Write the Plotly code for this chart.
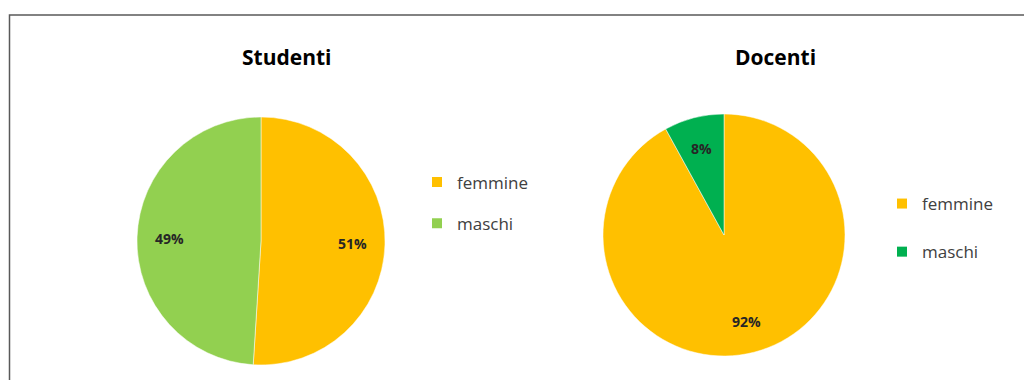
import math
import plotly.graph_objects as go

# Gender split of students and teachers
categories = ["femmine", "maschi"]
studenti_pct = [51, 49]
docenti_pct = [92, 8]

W, H = 1024, 380
FONT = "Open Sans"

colors_studenti = ["#FFC000", "#92D050"]
colors_docenti = ["#FFC000", "#00B050"]

# pie geometry in pixels: centre x, centre y, radius
STUDENTI_GEOM = (261, 241, 124)
DOCENTI_GEOM = (724, 235, 121)
LABEL_RADIUS = 0.74


def px_domain(cx, cy, r):
    # pie domain (paper fractions) from a centre and radius in pixels
    return dict(x=[(cx - r) / W, (cx + r) / W],
                y=[(H - cy - r) / H, (H - cy + r) / H])


def slice_labels(values, geom):
    # percentage labels placed at each slice's mid-angle (clockwise from 12 o'clock)
    cx, cy, r = geom
    total = sum(values)
    out, acc = [], 0.0
    for v in values:
        mid = (acc + v / 2) / total * 2 * math.pi
        acc += v
        x = cx + LABEL_RADIUS * r * math.sin(mid)
        y = cy - LABEL_RADIUS * r * math.cos(mid)
        out.append(dict(text=f"<b>{v}%</b>", x=x / W, y=(H - y) / H,
                        xref="paper", yref="paper", showarrow=False,
                        xanchor="center", yanchor="middle",
                        font=dict(family=FONT, size=14, color="#262626")))
    return out


fig = go.Figure()

for values, colors, geom in [(studenti_pct, colors_studenti, STUDENTI_GEOM),
                             (docenti_pct, colors_docenti, DOCENTI_GEOM)]:
    fig.add_trace(go.Pie(
        labels=categories, values=values,
        marker=dict(colors=colors, line=dict(color="#FFFFFF", width=0.5)),
        sort=False, direction="clockwise", rotation=0,
        textinfo="none", showlegend=False,
        domain=px_domain(*geom), hoverinfo="label+percent",
    ))

# one legend per pie, each entry its own group so the spacing can be set
for legend_id, colors in [("legend", colors_studenti), ("legend2", colors_docenti)]:
    for i, (name, color) in enumerate(zip(categories, colors)):
        fig.add_trace(go.Scatter(
            x=[None], y=[None], mode="markers", name=name,
            marker=dict(symbol="square", size=10, color=color),
            legend=legend_id, legendgroup=f"{legend_id}-{i}",
            showlegend=True, hoverinfo="skip",
        ))

legend_common = dict(
    font=dict(family=FONT, size=17, color="#404040"),
    bgcolor="rgba(0,0,0,0)", xanchor="left", yanchor="middle",
    itemclick=False, itemdoubleclick=False,
)

annotations = [
    dict(text="<b>Studenti</b>", x=287 / W, y=(H - 57) / H,
         xref="paper", yref="paper", showarrow=False,
         xanchor="center", yanchor="middle",
         font=dict(family=FONT, size=21, color="#000000")),
    dict(text="<b>Docenti</b>", x=775 / W, y=(H - 57) / H,
         xref="paper", yref="paper", showarrow=False,
         xanchor="center", yanchor="middle",
         font=dict(family=FONT, size=21, color="#000000")),
]
annotations += slice_labels(studenti_pct, STUDENTI_GEOM)
annotations += slice_labels(docenti_pct, DOCENTI_GEOM)

fig.update_layout(
    width=W, height=H,
    margin=dict(l=0, r=0, t=0, b=0),
    paper_bgcolor="#FFFFFF", plot_bgcolor="rgba(0,0,0,0)",
    xaxis=dict(visible=False), yaxis=dict(visible=False),
    showlegend=True,
    legend=dict(x=417 / W, y=(H - 203) / H, tracegroupgap=16, **legend_common),
    legend2=dict(x=882 / W, y=(H - 228) / H, tracegroupgap=23, **legend_common),
    annotations=annotations,
    shapes=[
        dict(type="rect", xref="paper", yref="paper",
             x0=9.5 / W, x1=1.02, y0=-0.02, y1=(H - 15) / H,
             line=dict(color="#595959", width=1.5), fillcolor="rgba(0,0,0,0)"),
    ],
)

fig.write_html("out.html")
